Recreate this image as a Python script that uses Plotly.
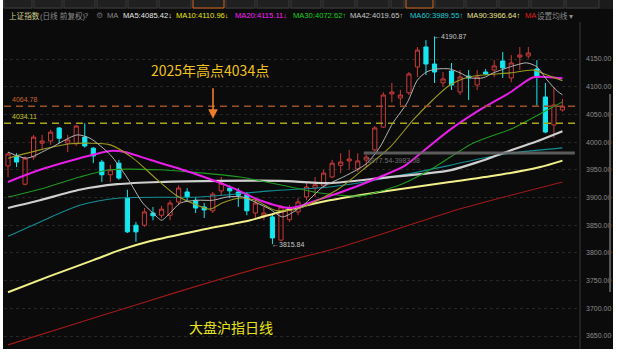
import plotly.graph_objects as go

# ---------------- data ----------------
day_idx = list(range(66))
open_p = [3957, 3975, 3924, 3973, 3998, 4002, 4025.5, 3998, 3997, 4009,
          3989, 3964, 3941, 3962, 3899, 3850, 3850, 3872, 3868, 3868,
          3892, 3910, 3895, 3883, 3876, 3912, 3917, 3910, 3905, 3872,
          3867, 3865, 3823, 3860, 3874, 3901, 3917, 3921, 3937, 3958,
          3966, 3951.5, 3967.7, 3986, 4027, 4087, 4079.6, 4089, 4135.6, 4171.7,
          4141, 4107, 4128.4, 4090.4, 4119.3, 4103, 4126.5, 4130.2, 4146.4, 4115.7,
          4153.6, 4155.4, 4132, 4081.4, 4030.9, 4058]
high_p = [3982, 3980, 3974, 4013, 4013, 4022, 4027, 4013, 4031, 4034.11,
          3991, 3968, 3959, 3968, 3914, 3856, 3881, 3883, 3885, 3895,
          3922, 3917, 3901, 3890, 3910, 3937, 3922, 3917, 3910, 3899,
          3883, 3870, 3886, 3886, 3899, 3928, 3937, 3950, 3968, 3980,
          3986, 3980, 3977.54, 4029, 4090, 4107, 4094, 4126.5, 4171.7, 4184,
          4190.87, 4126.5, 4142.8, 4130, 4130, 4130, 4132, 4148, 4162.6, 4157,
          4171.7, 4171.7, 4148, 4106.7, 4099.5, 4078]
low_p = [3937, 3955, 3922, 3968, 3986, 3995, 3998, 3982, 3993, 3990,
         3962, 3928, 3928, 3932, 3836, 3820, 3847, 3859, 3863, 3859,
         3886, 3892, 3872, 3863, 3872, 3904, 3899, 3883, 3868, 3863,
         3859, 3815.84, 3821, 3856, 3868, 3895, 3901, 3917, 3935, 3944,
         3950, 3946, 3955, 3983.08, 4025.5, 4072, 4067, 4085, 4117.5, 4121,
         4106.7, 4099.5, 4094, 4085, 4076, 4094, 4121, 4117.5, 4115.7, 4108,
         4130, 4151, 4066, 4016, 4007.4, 4055]
close_p = [3978.5, 3964, 3971, 4009, 4002, 4018, 4007, 4004, 4029, 3993,
           3975, 3941, 3950, 3935, 3838, 3838, 3874, 3867, 3879, 3890,
           3917, 3901, 3881, 3877.5, 3906, 3926, 3912, 3904, 3876, 3890,
           3872, 3827, 3883, 3878, 3892, 3919, 3923, 3944, 3962, 3964,
           3969.5, 3966, 3973, 4025.5, 4085, 4090.4, 4085, 4123, 4166, 4141,
           4126.5, 4114, 4103, 4117.5, 4115.7, 4117.5, 4123, 4137.4, 4133.8, 4142.8,
           4157.2, 4160.8, 4119.3, 4018.2, 4067, 4064.78]

# moving averages: (day index, value) samples
ma5_x = [0, 2.2, 4.9, 8.1, 9.6, 12, 14, 15.8, 17, 18, 19, 20.2, 22.2, 24, 25.7, 27.5, 29.2,
         30.7, 32.2, 34.6, 36.9, 39.3, 40.9, 42.1, 43.6, 45.1, 46.8, 48, 49.1, 50.3, 51.8,
         53, 54.2, 55.7, 56.9, 58.9, 60.8, 62, 63.2, 64.4, 65]
ma5_v = [3982, 3971, 3989, 4013, 4007, 3977, 3935, 3890, 3872, 3859, 3872, 3890, 3895, 3895,
         3901, 3901, 3890, 3879, 3865, 3886, 3919, 3937, 3950, 3962, 3991, 4034, 4071, 4112,
         4127, 4132, 4132, 4125, 4116, 4116, 4125, 4136, 4143, 4136, 4112, 4092, 4085.42]
ma10_x = [0, 3.75, 7.3, 9.6, 12, 14.65, 17.5, 19.8, 22.2, 23.7, 25.1, 27.2, 29, 31.3, 33.1,
          34.6, 38.6, 41.6, 44.8, 47.5, 49.8, 51.8, 54.2, 58.9, 61.6, 63.2, 65]
ma10_v = [3971, 3986, 3997, 3998, 3995, 3971, 3932, 3903, 3886, 3879, 3890, 3899, 3895, 3877,
          3877, 3883, 3914, 3950, 3991, 4040, 4076, 4103, 4118, 4125, 4130, 4121, 4110.96]
ma20_x = [0, 3.75, 8.4, 12, 13.7, 16.65, 21.3, 26.4, 29.5, 33.1, 36.6, 40.7, 43.6, 46.5,
          49.1, 51.8, 55.3, 58.9, 61.6, 65]
ma20_v = [3928, 3950, 3971, 3984, 3982, 3968, 3946, 3917, 3895, 3881, 3897, 3919, 3937, 3957,
          3989, 4022, 4058, 4090, 4117, 4115.11]
ma30_x = [0, 3.75, 8.4, 12, 17.8, 21.3, 27.2, 31.9, 36.6, 41.3, 46, 49.5, 54.5, 59.2, 62.4, 65]
ma30_v = [3901, 3915, 3937, 3950, 3950, 3946, 3937, 3923, 3908, 3903, 3923, 3950, 3998, 4025,
          4051, 4072.62]
ma42_x = [0, 3.75, 8.4, 12.8, 17.8, 24.9, 31.9, 37.7, 43.6, 51.8, 55.3, 58, 62.1, 65]
ma42_v = [3881, 3895, 3914, 3924, 3928, 3930, 3930, 3926, 3935, 3949, 3965, 3980, 4002, 4019.65]
ma60_x = [0, 3.75, 8.4, 13.1, 22.5, 30.7, 37.7, 43.6, 51.8, 55.3, 58.9, 65]
ma60_v = [3830, 3856, 3886, 3899, 3901, 3912, 3919, 3933, 3958, 3970, 3980, 3989.55]
ma90_x = [0, 4.9, 10, 13.1, 16.6, 22.5, 28.4, 31.9, 37.7, 43.6, 51.8, 57.7, 62.4, 65]
ma90_v = [3729, 3758, 3787, 3805, 3821, 3841, 3859, 3874, 3895, 3910, 3928, 3941, 3955, 3966.64]
ma_long_x = [0, 10.8, 20.2, 29.5, 38.6, 46, 51.8, 57.7, 65]
ma_long_v = [3634, 3686, 3731, 3773, 3809, 3845, 3874, 3899, 3928]

y_ticks = [3650, 3700, 3750, 3800, 3850, 3900, 3950, 4000, 4050, 4100, 4150]
y_tick_labels = ["3650.00", "3700.00", "3750.00", "3800.00", "3850.00", "3900.00",
                 "3950.00", "4000.00", "4050.00", "4100.00", "4150.00"]

period_high = 4190.87
period_high_idx = 50
period_low = 3815.84
period_low_idx = 31
year_high_line = 4034.11
last_price_line = 4064.78
gap_low, gap_high = 3977.54, 3983.08
gap_start_idx = 42

legend_labels = ["上证指数", "(日线 前复权)", "?", "⚙", "MA", "MA5:4085.42↓", "MA10:4110.96↓",
                 "MA20:4115.11↓", "MA30:4072.62↑", "MA42:4019.65↑", "MA60:3989.55↑",
                 "MA90:3966.64↑", "MA", "设置均线 ▾"]

# ---------------- layout geometry ----------------
W, H = 620, 355
PL, PR, PT, PB = 4, 580, 24, 349          # plot area in pixels
X0_PX, STEP = 8.0, 8.53                   # pixel of first candle, pixels per day
Y_A, Y_B = 4256.5, 1.805                  # price = Y_A - Y_B * pixel_y

xr = [(PL - X0_PX) / STEP, (PR - X0_PX) / STEP]
yr = [Y_A - Y_B * PB, Y_A - Y_B * PT]


def px(x):
    return (x - PL) / (PR - PL)


def py(y):
    return (PB - y) / (PB - PT)


CJK = "Noto Sans CJK SC"
LAT = "Liberation Sans, Noto Sans CJK SC"

fig = go.Figure()

# moving averages
ma_specs = [
    (ma_long_x, ma_long_v, "#a11a1a", 1.1),
    (ma90_x, ma90_v, "#f2f08a", 2.0),
    (ma60_x, ma60_v, "#128f96", 1.1),
    (ma42_x, ma42_v, "#cfcfcf", 2.2),
    (ma30_x, ma30_v, "#1f9a1f", 1.1),
    (ma20_x, ma20_v, "#e81ee8", 2.0),
    (ma10_x, ma10_v, "#9c9a1e", 1.1),
    (ma5_x, ma5_v, "#b4b4b4", 1.0),
]
for xs, vs, col, wd in ma_specs:
    fig.add_trace(go.Scatter(x=xs, y=vs, mode="lines", hoverinfo="skip",
                             line=dict(color=col, width=wd, shape="spline", smoothing=0.7)))

fig.add_trace(go.Candlestick(
    x=day_idx, open=open_p, high=high_p, low=low_p, close=close_p,
    increasing=dict(line=dict(color="#c93a3a", width=1), fillcolor="rgba(0,0,0,0)"),
    decreasing=dict(line=dict(color="#16e6f0", width=1), fillcolor="#16e6f0"),
    whiskerwidth=0, hoverinfo="skip"))

shapes = []
# dark panel
shapes.append(dict(type="rect", xref="paper", yref="paper", layer="below",
                   x0=px(3), x1=px(613), y0=py(349), y1=py(0),
                   fillcolor="#0b0b0b", line=dict(width=0)))
# top toolbar
shapes.append(dict(type="rect", xref="paper", yref="paper", layer="below",
                   x0=px(3), x1=px(613), y0=py(9), y1=py(0),
                   fillcolor="#1b1b1b", line=dict(width=0)))
tab_edges = [3, 33, 63, 96, 127, 158, 192, 225, 256, 290, 322, 356, 390, 405, 434, 465, 498, 530, 565, 600]
for a, b in zip(tab_edges[:-1], tab_edges[1:]):
    sel = a in (192, 405)
    shapes.append(dict(type="rect", xref="paper", yref="paper", layer="below",
                       x0=px(a + 1), x1=px(b - 1), y0=py(8), y1=py(-2),
                       fillcolor="#202020",
                       line=dict(color="#d2691e" if sel else "#3a3a3a", width=1)))
# axis separator and scroll handle
shapes.append(dict(type="line", xref="paper", yref="paper", x0=px(PR), x1=px(PR),
                   y0=py(PB), y1=py(22), line=dict(color="#3a3a3a", width=1)))
shapes.append(dict(type="line", xref="paper", yref="paper", x0=px(610), x1=px(610),
                   y0=py(292), y1=py(94), line=dict(color="#555555", width=2)))
# price lines
shapes.append(dict(type="line", xref="paper", yref="y", x0=0, x1=1,
                   y0=last_price_line, y1=last_price_line,
                   line=dict(color="#9a5028", width=1.6, dash="7px,5px")))
shapes.append(dict(type="line", xref="paper", yref="y", x0=0, x1=1,
                   y0=year_high_line, y1=year_high_line,
                   line=dict(color="#a6a616", width=1.6, dash="7px,5px")))
# unfilled gap band
shapes.append(dict(type="rect", xref="x", yref="y", x0=gap_start_idx - 0.3, x1=xr[1] - 0.6,
                   y0=gap_low, y1=gap_high, fillcolor="#6a6a6a", opacity=0.85,
                   line=dict(width=0)))

ann = []
legend_pos = [7, 38, 82, 94, 105, 121, 174, 233, 291, 348, 408, 465, 523, 535]
legend_cols = ["#cfcf8c", "#8a8a8a", "#9a9a9a", "#6a6a6a", "#8a8a8a", "#e6e6e6", "#e6e600",
               "#ff1eff", "#19d219", "#c8c8c8", "#19c8d2", "#e8e48c", "#e02020", "#8a8a8a"]
for xp, txt, col in zip(legend_pos, legend_labels, legend_cols):
    ann.append(dict(xref="paper", yref="paper", x=px(xp), y=py(16), xanchor="left",
                    yanchor="middle", text=txt, showarrow=False,
                    font=dict(family=LAT, size=7.6, color=col)))

ann.append(dict(xref="paper", yref="y", x=px(10), y=last_price_line, xanchor="left",
                yanchor="bottom", yshift=1, text=f"{last_price_line:.2f}", showarrow=False,
                font=dict(family=LAT, size=7, color="#c8642d")))
ann.append(dict(xref="paper", yref="y", x=px(10), y=year_high_line, xanchor="left",
                yanchor="bottom", yshift=1, text=f"{year_high_line:.2f}", showarrow=False,
                font=dict(family=LAT, size=7, color="#c8c81e")))
ann.append(dict(xref="x", yref="y", x=period_high_idx, y=period_high, xanchor="left",
                yanchor="middle", xshift=-3, text=f"←{period_high:.2f}", showarrow=False,
                font=dict(family=LAT, size=7, color="#c8c8c8")))
ann.append(dict(xref="x", yref="y", x=period_low_idx, y=period_low, xanchor="left",
                yanchor="middle", xshift=-2, text=f"←{period_low:.2f}", showarrow=False,
                font=dict(family=LAT, size=7, color="#c8c8c8")))
ann.append(dict(xref="x", yref="y", x=gap_start_idx, y=gap_low, xanchor="left",
                yanchor="top", xshift=-1, text=f"{gap_low:.2f}-{gap_high:.2f}", showarrow=False,
                font=dict(family=LAT, size=7, color="#6e6e6e")))
ann.append(dict(xref="paper", yref="paper", x=px(210), y=py(70), xanchor="center",
                yanchor="middle", text="2025年高点4034点", showarrow=False,
                font=dict(family=CJK, size=14, color="#f0c21e")))
ann.append(dict(xref="paper", yref="y", x=px(213), y=year_high_line + 8, ax=0, ay=-32,
                text="", showarrow=True, arrowhead=2, arrowsize=1.2, arrowwidth=1.6,
                arrowcolor="#ee7d2a"))
ann.append(dict(xref="paper", yref="paper", x=px(231), y=py(327), xanchor="center",
                yanchor="middle", text="大盘沪指日线", showarrow=False,
                font=dict(family=CJK, size=14, color="#e8e41a")))

fig.update_layout(
    width=W, height=H, showlegend=False,
    margin=dict(l=PL, r=W - PR, t=PT, b=H - PB, pad=0),
    paper_bgcolor="#ffffff", plot_bgcolor="rgba(0,0,0,0)",
    shapes=shapes, annotations=ann,
    xaxis=dict(range=xr, showgrid=False, zeroline=False, showticklabels=False,
               rangeslider=dict(visible=False), fixedrange=True),
    yaxis=dict(range=yr, side="right", tickvals=y_ticks, ticktext=y_tick_labels,
               tickfont=dict(family=LAT, size=7, color="#8c8c8c"), ticks="",
               showgrid=True, gridcolor="#262626", griddash="dot", gridwidth=1,
               zeroline=False, fixedrange=True, ticklabelstandoff=5),
)

fig.write_html("out.html")
